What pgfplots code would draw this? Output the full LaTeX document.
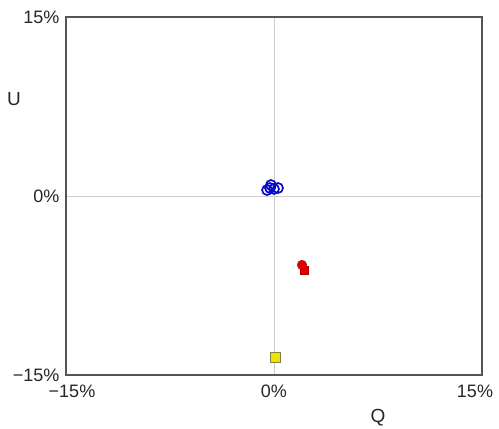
\documentclass[border=0pt]{standalone}
\usepackage{pgfplots}
\pgfplotsset{compat=1.18}
\usepackage{fontspec}
\setmainfont{Liberation Sans}
\definecolor{frame}{RGB}{85,85,85}
\definecolor{gridc}{RGB}{205,205,205}
\definecolor{bluec}{RGB}{10,10,205}
\definecolor{redc}{RGB}{225,0,0}
\definecolor{yelc}{RGB}{240,225,0}
\begin{document}
\begin{tikzpicture}[x=1pt,y=1pt]
\begin{axis}[
  scale only axis,
  width=416pt, height=358pt,
  xmin=-15, xmax=15, ymin=-15, ymax=15,
  xtick={-15,0,15}, ytick={-15,0,15},
  xticklabels={\makebox[0pt]{\hspace*{12pt}−15\%},0\%,\makebox[0pt]{15\%\hspace*{14pt}}},
  yticklabels={−15\%,0\%,15\%},
  major tick length=0pt,
  grid=major,
  major grid style={gridc, line width=0.8pt},
  axis line style={frame, line width=1.8pt},
  tick label style={font=\fontsize{18}{18}\selectfont, text=black!85},
  xticklabel style={yshift=-6pt},
  yticklabel style={xshift=-3pt},
  clip=false,
]
\addplot[only marks, mark=o, mark size=5pt, bluec, line width=1.7pt]
  coordinates {(-0.5,0.5) (-0.29,0.67) (0,0.59) (0.29,0.67) (-0.22,0.92)};
\addplot[only marks, mark=square*, mark size=4pt, draw=red!70!black, fill=redc]
  coordinates {(2.2,-6.2)};
\addplot[only marks, mark=*, mark size=4.8pt, draw=red!70!black, fill=redc]
  coordinates {(2.02,-5.78)};
\addplot[only marks, mark=square*, mark size=5pt, draw=yellow!45!black, fill=yelc, line width=0.8pt]
  coordinates {(0.07,-13.5)};
\node[font=\fontsize{19}{19}\selectfont, text=black!85] at (rel axis cs:-0.125,0.77) {U};
\node[font=\fontsize{19}{19}\selectfont, text=black!85] at (rel axis cs:0.75,-0.12) {Q};
\end{axis}
\pgfresetboundingbox
\path[use as bounding box] (-66,-54) rectangle (433,375);
\end{tikzpicture}
\end{document}
